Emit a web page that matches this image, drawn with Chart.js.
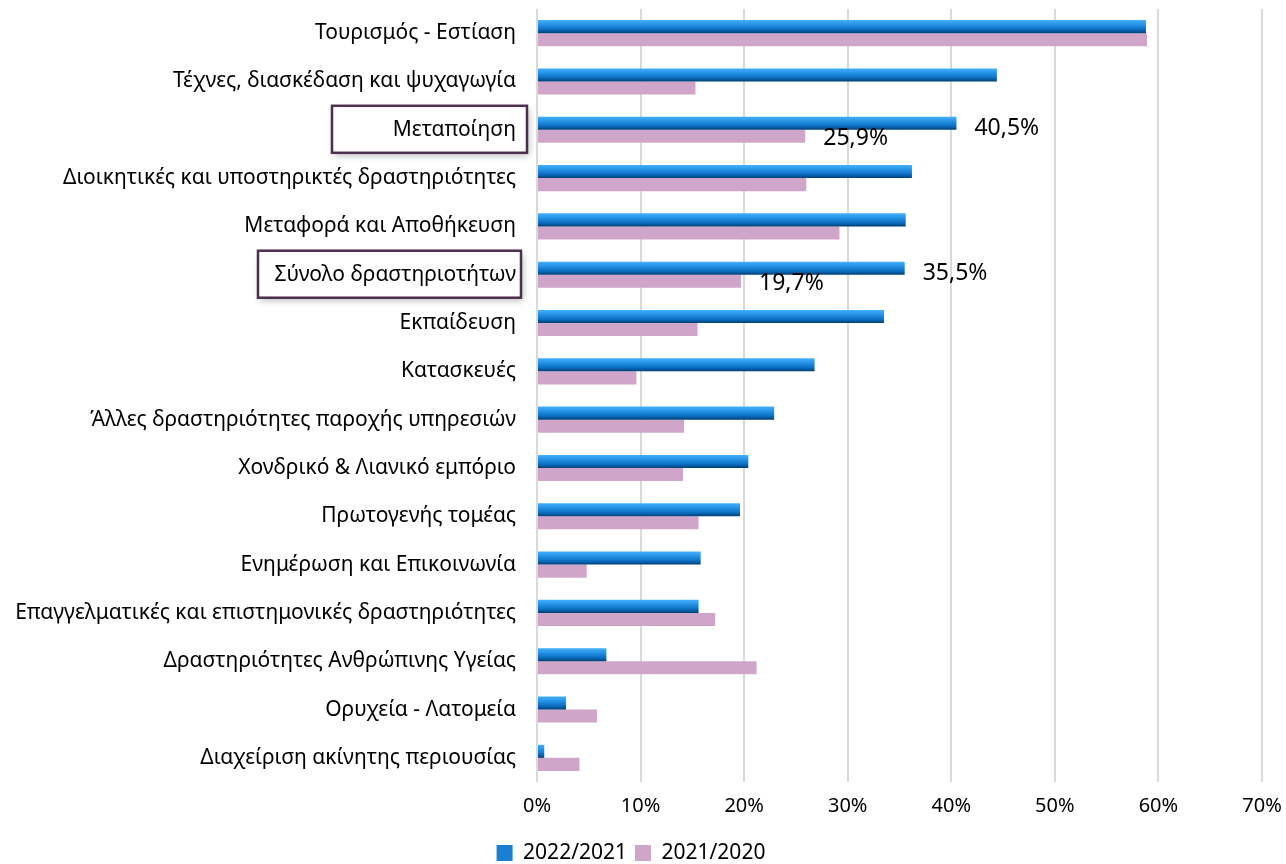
<!DOCTYPE html>
<html lang="el">
<head>
<meta charset="utf-8">
<title>Chart</title>
<script src="https://cdn.jsdelivr.net/npm/chart.js@4.4.1/dist/chart.umd.min.js"></script>
<style>
  html, body { margin: 0; padding: 0; background: #fff; }
  #wrap { width: 1286px; height: 864px; }
</style>
</head>
<body>
<div id="wrap"><canvas id="myChart" width="1286" height="864"></canvas></div>
<script>
// Κατηγορίες (κλάδοι)
const categories = [
  "Τουρισμός - Εστίαση",
  "Τέχνες, διασκέδαση και ψυχαγωγία",
  "Μεταποίηση",
  "Διοικητικές και υποστηρικτές δραστηριότητες",
  "Μεταφορά και Αποθήκευση",
  "Σύνολο δραστηριοτήτων",
  "Εκπαίδευση",
  "Κατασκευές",
  "Άλλες δραστηριότητες παροχής υπηρεσιών",
  "Χονδρικό & Λιανικό εμπόριο",
  "Πρωτογενής τομέας",
  "Ενημέρωση και Επικοινωνία",
  "Επαγγελματικές και επιστημονικές δραστηριότητες",
  "Δραστηριότητες Ανθρώπινης Υγείας",
  "Ορυχεία - Λατομεία",
  "Διαχείριση ακίνητης περιουσίας"
];

// Μεταβολή % ανά περίοδο
const values2022 = [58.8, 44.4, 40.5, 36.2, 35.6, 35.5, 33.5, 26.8, 22.9, 20.4, 19.6, 15.8, 15.6, 6.7, 2.8, 0.7];
const values2021 = [58.9, 15.3, 25.9, 26.0, 29.2, 19.7, 15.5, 9.6, 14.2, 14.1, 15.6, 4.8, 17.2, 21.2, 5.8, 4.1];

const seriesNames = ["2022/2021", "2021/2020"];
const xTicks = [0, 10, 20, 30, 40, 50, 60, 70];

// Κατηγορίες με πλαίσιο και ετικέτες τιμών
const highlighted = [2, 5];

const CAT_PCT = 0.54;
const FONT = "'Noto Sans', 'Open Sans', sans-serif";

function fmt(v) {
  return v.toFixed(1).replace(".", ",") + "%";
}

// Διαβάθμιση μπλε για κάθε μπάρα
function blueFill(c) {
  const chart = c.chart;
  const ys = chart.scales.y;
  if (!ys || c.dataIndex === undefined || !chart.chartArea) return "#1A7FD0";
  const band = (ys.bottom - ys.top) / categories.length;
  const center = ys.getPixelForValue(c.dataIndex);
  const top = center - band * CAT_PCT / 2;
  const g = chart.ctx.createLinearGradient(0, top, 0, center);
  g.addColorStop(0, "#42B0FB");
  g.addColorStop(0.35, "#2592E6");
  g.addColorStop(0.72, "#0B6EC0");
  g.addColorStop(1, "#003F74");
  return g;
}

// Σταθερό ύψος υπομνήματος
const legendFix = {
  id: "legendFix",
  afterInit(chart) {
    const lg = chart.legend;
    const fit = lg.fit.bind(lg);
    lg.fit = function () {
      fit();
      this.height = 29.5;
    };
  }
};

// Πλαίσια γύρω από τις επιλεγμένες ετικέτες
const boxX = { 2: [332, 527], 5: [258, 521] };
const boxPlugin = {
  id: "boxes",
  beforeDraw(chart) {
    const ctx = chart.ctx;
    const ys = chart.scales.y;
    highlighted.forEach((i) => {
      const y = ys.getPixelForValue(i);
      const [x1, x2] = boxX[i];
      ctx.save();
      ctx.shadowColor = "rgba(0,0,0,0.28)";
      ctx.shadowBlur = 7;
      ctx.shadowOffsetX = 2;
      ctx.shadowOffsetY = 3;
      ctx.fillStyle = "#fff";
      ctx.fillRect(x1, y - 24, x2 - x1, 47);
      ctx.restore();
      ctx.save();
      ctx.strokeStyle = "#4D2F4D";
      ctx.lineWidth = 2.5;
      ctx.strokeRect(x1, y - 24, x2 - x1, 47);
      ctx.restore();
    });
  }
};

// Ετικέτες τιμών δίπλα στις μπάρες
const valuePlugin = {
  id: "values",
  afterDatasetsDraw(chart) {
    const ctx = chart.ctx;
    ctx.save();
    ctx.font = "23px " + FONT;
    ctx.fillStyle = "#000";
    ctx.textAlign = "left";
    ctx.textBaseline = "middle";
    chart.data.datasets.forEach((ds, d) => {
      const meta = chart.getDatasetMeta(d);
      highlighted.forEach((i) => {
        const el = meta.data[i];
        ctx.fillText(fmt(ds.data[i]), el.x + 18, el.y + (d === 0 ? 5 : 2));
      });
    });
    ctx.restore();
  }
};

new Chart(document.getElementById("myChart"), {
  type: "bar",
  data: {
    labels: categories,
    datasets: [
      {
        label: seriesNames[0],
        data: values2022,
        backgroundColor: blueFill,
        categoryPercentage: CAT_PCT,
        barPercentage: 1
      },
      {
        label: seriesNames[1],
        data: values2021,
        backgroundColor: "#CFA6CA",
        categoryPercentage: CAT_PCT,
        barPercentage: 1
      }
    ]
  },
  options: {
    indexAxis: "y",
    responsive: false,
    animation: false,
    devicePixelRatio: 1,
    layout: { padding: { top: 9, right: 24, left: 0, bottom: 0 } },
    scales: {
      x: {
        min: 0,
        max: 70,
        afterBuildTicks(s) {
          s.ticks = xTicks.map((v) => ({ value: v }));
        },
        ticks: {
          callback: (v) => v + "%",
          color: "#000",
          font: { family: FONT, size: 20 },
          padding: 12
        },
        grid: { color: "#D9D9D9", lineWidth: 2, drawTicks: false },
        border: { display: false },
        afterFit(s) {
          s.height = 52.5;
          s.paddingLeft = 0;
          s.paddingRight = 0;
        }
      },
      y: {
        grid: { display: false, tickLength: 0 },
        border: { display: false },
        ticks: {
          color: "#000",
          font: { family: FONT, size: 21 },
          padding: 21
        },
        afterFit(s) {
          s.width = 537;
          s.paddingTop = 0;
          s.paddingBottom = 0;
        }
      }
    },
    plugins: {
      legend: {
        position: "bottom",
        labels: {
          boxWidth: 16,
          boxHeight: 16,
          color: "#000",
          font: { family: FONT, size: 21 },
          padding: 8,
          generateLabels(chart) {
            const fills = ["#1A7FD0", "#CFA6CA"];
            return chart.data.datasets.map((ds, i) => ({
              text: ds.label,
              fillStyle: fills[i],
              strokeStyle: fills[i],
              lineWidth: 0,
              fontColor: "#000",
              datasetIndex: i
            }));
          }
        }
      },
      tooltip: { enabled: false }
    }
  },
  plugins: [legendFix, boxPlugin, valuePlugin]
});
</script>
</body>
</html>
